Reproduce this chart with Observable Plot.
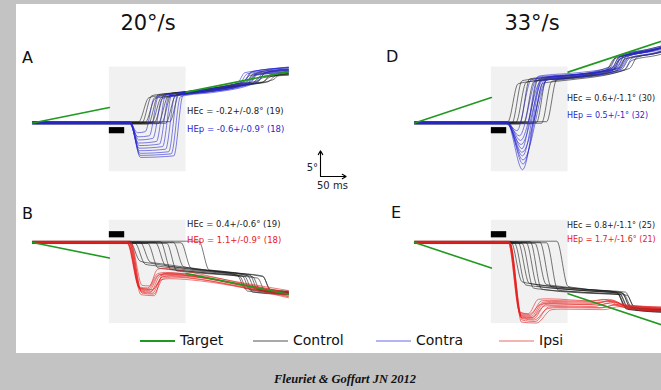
<!DOCTYPE html>
<html><head><meta charset="utf-8">
<script src="https://cdn.jsdelivr.net/npm/d3@7"></script>
<script src="https://cdn.jsdelivr.net/npm/@observablehq/plot@0.6"></script>
<style>
html,body{margin:0;padding:0;overflow:hidden;background:#c3c3c3;}
#fig{position:relative;width:661px;height:390px;overflow:hidden;background:#c3c3c3;font-family:"DejaVu Sans",sans-serif;}
#white{position:absolute;left:16px;top:4px;width:660px;height:349px;background:#fff;}
.pnl{position:absolute;}
.pnl svg{display:block;overflow:visible;background:transparent !important;max-width:none !important;}
#overlay{position:absolute;left:0;top:0;}
#caption{position:absolute;left:195px;width:300px;top:372px;text-align:center;font-family:"Liberation Serif","DejaVu Serif",serif;font-weight:bold;font-style:italic;font-size:12.5px;color:#111;}
</style>
</head><body>
<div id="fig">
  <div id="white"></div>
  <div class="pnl" id="pA" style="left:27px;top:30px"></div>
  <div class="pnl" id="pD" style="left:409px;top:30px"></div>
  <div class="pnl" id="pB" style="left:27px;top:211px"></div>
  <div class="pnl" id="pE" style="left:409px;top:211px"></div>
  <div class="pnl" id="pScale" style="left:316px;top:146px"></div>
  <svg id="overlay" width="661" height="390"></svg>
  <div id="caption">Fleuriet &amp; Goffart JN 2012</div>
</div>
<script>
// ---------- data (time in ms from blank onset, position in deg) ----------
const speeds = ["20°/s", "33°/s"];
const panelLetters = ["A", "D", "B", "E"];
const legendLabels = ["Target", "Control", "Contra", "Ipsi"];
const blankPeriod = [0, 150];
const stimPeriod = [0, 30];

// target trajectories (visible segments)
const targetA = [[[-150,0],[0,3.0]], [[150,6.0],[350,10.0]]];
const targetD = [[[-150,0],[0,4.95]], [[150,9.9],[350,16.5]]];
const targetB = [[[-150,0],[0,-3.0]], [[150,-6.0],[350,-10.0]]];
const targetE = [[[-150,0],[0,-4.95]], [[150,-9.9],[350,-16.5]]];

// A: 20°/s upward, control
const ctrlA = [
 [[-150,0.2],[57,0.2],[77,4.9],[95,5.3],[150,6.0],[255,7.7],[268,8.0],[282,9.6],[350,10.2]],
 [[-150,-0.1],[63,-0.1],[83,5.3],[100,5.6],[150,6.1],[245,7.6],[260,7.9],[276,9.3],[350,9.8]],
 [[-150,0.1],[70,0.1],[90,4.8],[110,5.1],[150,5.7],[265,7.6],[280,7.8],[295,9.0],[350,9.4]],
 [[-150,-0.2],[76,-0.2],[96,5.5],[115,5.7],[160,6.1],[250,7.2],[300,7.9],[315,9.4],[350,9.6]],
 [[-150,0],[82,0],[102,5.0],[120,5.3],[160,5.8],[270,7.5],[285,7.7],[300,8.8],[350,9.3]],
 [[-150,0.15],[88,0.15],[108,5.6],[125,5.8],[170,6.3],[260,7.7],[290,8.2],[305,9.8],[350,10.4]],
 [[-150,-0.15],[95,-0.15],[115,5.2],[130,5.5],[175,6.1],[280,7.6],[310,8.0],[325,9.2],[350,9.5]],
 [[-150,0.05],[102,0.05],[122,5.8],[140,6.0],[180,6.4],[250,7.4],[275,7.9],[290,9.9],[350,10.5]],
 [[-150,-0.05],[110,-0.05],[130,5.4],[150,5.7],[190,6.1],[285,7.8],[300,8.0],[315,9.0],[350,9.6]],
 [[-150,0.25],[118,0.25],[137,5.7],[155,5.9],[190,6.2],[270,7.5],[320,8.4],[335,9.7],[350,10.0]]
];
// A: contra perturbation
const contraA = [
 [[-150,0.1],[40,0.1],[55,-1.9],[70,-1.7],[88,4.9],[105,5.3],[160,6.1],[262,8.0],[277,9.9],[350,10.8]],
 [[-150,-0.1],[40,-0.1],[56,-2.7],[78,-2.5],[96,5.2],[112,5.5],[165,6.2],[255,7.8],[270,9.6],[350,10.4]],
 [[-150,0.2],[41,0.2],[57,-3.3],[85,-3.0],[103,4.7],[120,5.1],[170,5.8],[268,7.6],[283,9.2],[350,9.9]],
 [[-150,-0.2],[40,-0.2],[57,-3.9],[92,-3.6],[110,5.4],[125,5.7],[175,6.3],[250,7.7],[265,9.8],[350,10.7]],
 [[-150,0],[42,0],[58,-4.4],[98,-4.1],[116,5.0],[130,5.3],[180,5.9],[275,7.7],[290,9.5],[350,10.0]],
 [[-150,0.15],[40,0.15],[58,-4.9],[104,-4.6],[122,5.5],[138,5.8],[185,6.3],[260,7.6],[280,10.0],[350,10.8]],
 [[-150,-0.15],[41,-0.15],[59,-5.4],[110,-5.1],[128,5.2],[142,5.5],[190,6.0],[285,7.9],[300,9.6],[350,10.2]],
 [[-150,0.05],[40,0.05],[60,-5.9],[116,-5.6],[134,5.6],[148,5.8],[195,6.3],[270,7.7],[285,9.4],[350,10.3]],
 [[-150,-0.05],[42,-0.05],[60,-6.3],[121,-6.0],[139,5.1],[152,5.4],[200,5.9],[290,8.0],[305,9.8],[350,10.5]],
 [[-150,0.25],[40,0.25],[61,-6.7],[126,-6.4],[144,5.4],[158,5.7],[200,6.1],[265,7.6],[280,9.3],[350,10.9]]
];
// D: 33°/s upward, control
const ctrlD = [
 [[-150,0.2],[32,0.2],[52,7.6],[70,8.0],[150,8.8],[225,10.3],[240,12.5],[300,13.8],[350,15.0]],
 [[-150,-0.1],[40,-0.1],[60,8.2],[78,8.5],[150,9.0],[235,10.6],[250,12.8],[310,14.0],[350,15.2]],
 [[-150,0.1],[48,0.1],[68,7.9],[85,8.2],[150,8.7],[245,10.2],[260,12.4],[320,13.6],[350,14.6]],
 [[-150,-0.2],[55,-0.2],[75,8.6],[92,8.8],[150,9.2],[230,10.9],[245,13.0],[300,14.2],[350,15.4]],
 [[-150,0],[63,0],[83,8.0],[100,8.3],[150,8.7],[255,10.5],[270,12.6],[320,13.5],[350,14.4]],
 [[-150,0.15],[71,0.15],[91,8.4],[108,8.6],[150,8.9],[240,10.4],[255,12.9],[310,14.1],[350,15.0]],
 [[-150,-0.15],[80,-0.15],[100,7.7],[118,8.0],[155,8.4],[260,10.3],[275,12.2],[325,13.2],[350,13.9]],
 [[-150,0.05],[88,0.05],[108,8.8],[125,9.0],[160,9.3],[250,10.8],[265,13.2],[315,14.3],[350,15.1]],
 [[-150,-0.05],[98,-0.05],[118,8.1],[135,8.4],[165,8.7],[270,10.6],[285,12.8],[330,13.7],[350,14.2]],
 [[-150,0.25],[108,0.25],[128,8.5],[145,8.7],[170,9.0],[235,10.1],[250,12.3],[305,13.9],[350,14.8]]
];
// D: contra perturbation
const contraD = [
 [[-150,0.1],[30,0.1],[50,-1.5],[78,8.4],[93,8.7],[150,9.2],[235,10.6],[250,12.9],[310,14.2],[350,15.3]],
 [[-150,-0.1],[30,-0.1],[55,-2.5],[90,8.9],[105,9.1],[155,9.4],[245,10.9],[260,13.1],[315,14.3],[350,15.1]],
 [[-150,0.2],[31,0.2],[57,-3.4],[96,8.1],[110,8.4],[160,8.8],[250,10.3],[265,12.5],[320,13.7],[350,14.5]],
 [[-150,-0.2],[30,-0.2],[58,-4.2],[102,8.6],[116,8.9],[165,9.3],[230,10.5],[245,12.8],[305,14.0],[350,15.0]],
 [[-150,0],[32,0],[60,-5.0],[92,9.1],[106,9.3],[160,9.7],[240,11.0],[255,13.3],[310,14.4],[350,15.5]],
 [[-150,0.15],[30,0.15],[60,-5.7],[108,8.3],[122,8.6],[170,9.0],[260,10.4],[275,12.6],[325,13.6],[350,14.3]],
 [[-150,-0.15],[31,-0.15],[61,-6.4],[98,8.7],[112,9.0],[160,9.4],[245,10.7],[260,13.0],[315,14.2],[350,15.0]],
 [[-150,0.05],[30,0.05],[62,-7.2],[112,8.9],[126,9.1],[175,9.5],[255,10.8],[270,13.1],[320,14.0],[350,14.8]],
 [[-150,-0.05],[32,-0.05],[62,-8.0],[104,8.4],[118,8.7],[168,9.1],[238,10.3],[253,12.6],[308,13.9],[350,14.9]],
 [[-150,0.25],[30,0.25],[61,-9.1],[100,8.8],[114,9.0],[165,9.4],[250,10.6],[265,12.9],[318,14.1],[350,15.2]]
];
// B: 20°/s downward, control
const ctrlB = [
 [[-150,0.2],[40,0.2],[60,-3.6],[80,-4.0],[150,-5.0],[250,-6.3],[265,-8.9],[350,-9.6]],
 [[-150,-0.1],[50,-0.1],[70,-4.2],[90,-4.5],[160,-5.4],[260,-6.5],[275,-9.2],[350,-9.9]],
 [[-150,0.1],[60,0.1],[80,-3.8],[100,-4.1],[170,-5.1],[270,-6.4],[285,-9.0],[350,-9.5]],
 [[-150,-0.2],[75,-0.2],[95,-4.9],[115,-5.2],[180,-5.8],[255,-6.6],[270,-9.4],[350,-10.0]],
 [[-150,0],[90,0],[110,-4.5],[130,-4.8],[185,-5.5],[280,-6.6],[295,-9.3],[350,-9.7]],
 [[-150,0.15],[100,0.15],[120,-5.2],[140,-5.4],[190,-5.9],[265,-6.6],[280,-9.6],[350,-10.1]],
 [[-150,-0.15],[112,-0.15],[132,-5.5],[150,-5.7],[200,-6.1],[290,-6.9],[305,-9.5],[350,-9.8]],
 [[-150,0.05],[125,0.05],[145,-4.7],[165,-5.0],[210,-5.6],[300,-6.6],[315,-9.1],[350,-9.4]],
 [[-150,-0.05],[140,-0.05],[160,-5.0],[180,-5.3],[220,-5.7],[275,-6.3],[290,-9.2],[350,-9.7]],
 [[-150,0.25],[175,0.25],[195,-5.3],[215,-5.5],[260,-6.0],[300,-6.5],[315,-9.4],[350,-9.9]]
];
// B: ipsi perturbation
const ipsiB = [
 [[-150,0.1],[34,0.1],[58,-8.6],[75,-8.8],[95,-6.0],[110,-5.8],[160,-6.3],[250,-7.9],[350,-9.6]],
 [[-150,-0.1],[36,-0.1],[60,-9.0],[78,-9.2],[98,-6.2],[115,-6.0],[165,-6.5],[260,-8.2],[350,-9.9]],
 [[-150,0.2],[38,0.2],[62,-9.4],[80,-9.6],[100,-6.4],[118,-6.2],[170,-6.6],[270,-8.5],[350,-10.2]],
 [[-150,-0.2],[35,-0.2],[60,-8.8],[84,-9.1],[104,-6.6],[120,-6.4],[175,-6.8],[255,-8.3],[350,-10.4]],
 [[-150,0],[40,0],[64,-9.8],[86,-10.0],[106,-6.9],[122,-6.7],[180,-7.2],[265,-8.8],[350,-10.7]],
 [[-150,0.15],[37,0.15],[62,-10.1],[88,-10.3],[104,-6.1],[120,-5.9],[165,-6.2],[260,-7.8],[350,-9.3]],
 [[-150,-0.15],[42,-0.15],[64,-8.3],[78,-8.4],[94,-5.2],[105,-5.0],[150,-5.6],[245,-7.6],[350,-9.8]],
 [[-150,0.05],[39,0.05],[61,-9.2],[82,-9.4],[102,-7.2],[118,-7.0],[175,-7.4],[270,-8.9],[350,-10.5]],
 [[-150,-0.05],[36,-0.05],[59,-8.9],[76,-9.0],[96,-6.3],[112,-6.1],[160,-6.5],[255,-8.1],[350,-10.0]],
 [[-150,0.25],[41,0.25],[63,-9.6],[84,-9.8],[103,-6.7],[119,-6.5],[170,-7.0],[262,-8.6],[350,-10.1]]
];
// E: 33°/s downward, control
const ctrlE = [
 [[-150,0.2],[38,0.2],[60,-7.6],[80,-8.0],[160,-8.9],[245,-9.6],[262,-12.4],[350,-13.0]],
 [[-150,-0.1],[45,-0.1],[67,-8.2],[87,-8.5],[165,-9.2],[250,-9.8],[267,-12.7],[350,-13.3]],
 [[-150,0.1],[52,0.1],[74,-7.9],[94,-8.2],[170,-9.0],[255,-9.7],[272,-12.5],[350,-13.1]],
 [[-150,-0.2],[60,-0.2],[82,-8.8],[102,-9.1],[175,-9.6],[248,-10.0],[265,-12.9],[350,-13.4]],
 [[-150,0],[68,0],[90,-8.4],[110,-8.7],[180,-9.3],[258,-9.9],[275,-12.6],[350,-13.0]],
 [[-150,0.15],[76,0.15],[98,-9.0],[118,-9.3],[185,-9.8],[252,-10.1],[269,-13.0],[350,-13.5]],
 [[-150,-0.15],[85,-0.15],[107,-8.1],[127,-8.4],[190,-9.1],[262,-9.6],[279,-12.3],[350,-12.8]],
 [[-150,0.05],[95,0.05],[117,-8.6],[137,-8.9],[195,-9.4],[246,-9.8],[263,-12.8],[350,-13.3]],
 [[-150,-0.05],[108,-0.05],[130,-9.2],[148,-9.4],[200,-9.8],[265,-10.2],[282,-13.1],[350,-13.6]],
 [[-150,0.25],[128,0.25],[150,-8.5],[168,-8.8],[210,-9.3],[255,-9.7],[272,-12.6],[350,-13.2]]
];
// E: ipsi perturbation
const ipsiE = [
 [[-150,0.1],[33,0.1],[55,-13.4],[72,-13.8],[92,-11.0],[110,-10.9],[200,-11.3],[230,-11.0],[260,-12.0],[350,-12.6]],
 [[-150,-0.1],[35,-0.1],[57,-14.0],[78,-14.3],[100,-11.6],[118,-11.4],[205,-11.6],[235,-11.2],[265,-12.4],[350,-12.9]],
 [[-150,0.2],[34,0.2],[58,-14.5],[82,-14.8],[106,-12.0],[124,-11.9],[210,-12.1],[240,-11.5],[270,-12.6],[350,-13.1]],
 [[-150,-0.2],[36,-0.2],[60,-15.0],[86,-15.3],[112,-12.5],[130,-12.4],[215,-12.6],[245,-12.0],[275,-12.8],[350,-13.3]],
 [[-150,0],[33,0],[56,-13.8],[76,-14.1],[98,-11.3],[114,-11.2],[190,-11.4],[220,-11.0],[250,-12.1],[350,-12.5]],
 [[-150,0.15],[35,0.15],[59,-15.4],[88,-15.6],[118,-13.0],[136,-12.9],[220,-13.0],[250,-12.4],[280,-13.0],[350,-13.4]],
 [[-150,-0.15],[37,-0.15],[58,-14.2],[80,-14.5],[104,-12.3],[120,-12.2],[200,-12.4],[228,-11.8],[258,-12.5],[350,-12.9]],
 [[-150,0.05],[34,0.05],[57,-13.6],[74,-13.9],[96,-12.0],[112,-11.8],[195,-12.0],[230,-11.4],[262,-12.2],[350,-12.7]],
 [[-150,-0.05],[36,-0.05],[60,-14.7],[84,-15.0],[110,-12.8],[128,-12.6],[212,-12.7],[242,-12.1],[272,-12.9],[350,-13.2]],
 [[-150,0.25],[35,0.25],[58,-14.4],[79,-14.6],[102,-11.8],[118,-11.6],[198,-11.8],[232,-11.3],[264,-12.3],[350,-12.8]]
];
// annotation texts
const notesA = ["HEc = -0.2+/-0.8° (19)", "HEp = -0.6+/-0.9° (18)"];
const notesD = ["HEc = 0.6+/-1.1° (30)", "HEp = 0.5+/-1° (32)"];
const notesB = ["HEc = 0.4+/-0.6° (19)", "HEp = 1.1+/-0.9° (18)"];
const notesE = ["HEc = 0.8+/-1.1° (25)", "HEp = 1.7+/-1.6° (21)"];
// scale bar: 5° and 50 ms
const scaleBar = [{x1:0,y1:0,x2:0,y2:5},{x1:0,y1:0,x2:50,y2:0}];

// ---------- drawing ----------
const BLUE = "#2828d0", RED = "#e62020", GREEN = "#1f9a1f", BLACK = "#1a1a1a";
function rowsOf(traces, prefix){
  const out = [];
  traces.forEach((tr,i)=>tr.forEach(([t,y])=>out.push({t,y,id:prefix+i})));
  return out;
}
function panel(el, {ctrl, pert, pertColor, target, yDomain, height, blankY, barY, notes, noteY, noteX, noteSize}) {
  const tgtRows = rowsOf(target, "s");
  const chart = Plot.plot({
    width: 266, height, margin: 0,
    x: {domain: [-160, 360], axis: null},
    y: {domain: yDomain, axis: null},
    style: {background: "transparent", overflow: "visible", maxWidth: "none", fontFamily: "DejaVu Sans"},
    marks: [
      Plot.rect([{t1: blankPeriod[0], t2: blankPeriod[1], y1: blankY[0], y2: blankY[1]}],
        {x1: "t1", x2: "t2", y1: "y1", y2: "y2", fill: "#f1f1f1"}),
      Plot.line(rowsOf(ctrl, "c"), {x: "t", y: "y", z: "id", stroke: BLACK, strokeWidth: 0.7, strokeOpacity: 0.85, curve: "monotone-x"}),
      Plot.line(rowsOf(pert, "p"), {x: "t", y: "y", z: "id", stroke: pertColor, strokeWidth: 0.7, strokeOpacity: 0.85, curve: "monotone-x"}),
      Plot.line(tgtRows, {x: "t", y: "y", z: "id", stroke: GREEN, strokeWidth: 1.6}),
      Plot.rect([{t1: stimPeriod[0], t2: stimPeriod[1], y1: barY[0], y2: barY[1]}],
        {x1: "t1", x2: "t2", y1: "y1", y2: "y2", fill: "#000"}),
      Plot.text([{t: noteX, y: noteY[0], s: notes[0]}], {x: "t", y: "y", text: "s", textAnchor: "start", fontSize: noteSize, fill: "#222"}),
      Plot.text([{t: noteX, y: noteY[1], s: notes[1]}], {x: "t", y: "y", text: "s", textAnchor: "start", fontSize: noteSize, fill: pertColor})
    ]
  });
  document.getElementById(el).appendChild(chart);
}
const topRow = {yDomain: [-11, 18], height: 149, blankY: [-9.5, 10.9], barY: [-0.9, -2.1]};
const botRow = {yDomain: [-18, 6], height: 124, blankY: [-15.7, 4.3], barY: [2.1, 0.9]};
panel("pA", {...topRow, ctrl: ctrlA, pert: contraA, pertColor: BLUE, target: targetA, notes: notesA, noteY: [2.3, -1.2], noteX: 152, noteSize: 8.5});
panel("pD", {...topRow, ctrl: ctrlD, pert: contraD, pertColor: BLUE, target: targetD, notes: notesD, noteY: [4.8, 1.5], noteX: 148, noteSize: 8});
panel("pB", {...botRow, ctrl: ctrlB, pert: ipsiB, pertColor: RED, target: targetB, notes: notesB, noteY: [3.5, 0.4], noteX: 152, noteSize: 8.5});
panel("pE", {...botRow, ctrl: ctrlE, pert: ipsiE, pertColor: RED, target: targetE, notes: notesE, noteY: [3.3, 0.6], noteX: 148, noteSize: 8});

// scale bar
document.getElementById("pScale").appendChild(Plot.plot({
  width: 34, height: 34, margin: 0,
  x: {domain: [0, 50], range: [4, 29.6], axis: null},
  y: {domain: [0, 5], range: [30, 4.3], axis: null},
  style: {background: "transparent", overflow: "visible"},
  marks: [Plot.arrow(scaleBar, {x1: "x1", y1: "y1", x2: "x2", y2: "y2", stroke: "#000", strokeWidth: 1.1, headLength: 6})]
}));

// overlay texts & legend
const svg = d3.select("#overlay").style("font-family", "DejaVu Sans");
svg.append("text").attr("x", 148).attr("y", 23).attr("text-anchor", "middle").attr("dominant-baseline", "central").attr("font-size", 21).attr("fill", "#111").text(speeds[0]);
svg.append("text").attr("x", 532).attr("y", 23).attr("text-anchor", "middle").attr("dominant-baseline", "central").attr("font-size", 21).attr("fill", "#111").text(speeds[1]);
const letterPos = [[22, 57], [386, 56], [22, 213], [391, 212]];
panelLetters.forEach((L, i) => svg.append("text").attr("x", letterPos[i][0]).attr("y", letterPos[i][1]).attr("dominant-baseline", "central").attr("font-size", 16).attr("fill", "#111").text(L));
svg.append("text").attr("x", 318).attr("y", 167).attr("text-anchor", "end").attr("dominant-baseline", "central").attr("font-size", 10).attr("fill", "#222").text("5°");
svg.append("text").attr("x", 317).attr("y", 185).attr("dominant-baseline", "central").attr("font-size", 10).attr("fill", "#222").text("50 ms");
const legendColors = [GREEN, "#555", "#6b6be6", "#e86a6a"];
const legendX = [140, 253, 376, 499];
legendLabels.forEach((lab, i) => {
  svg.append("line").attr("x1", legendX[i]).attr("x2", legendX[i] + 35).attr("y1", 341).attr("y2", 341).attr("stroke", legendColors[i]).attr("stroke-width", i === 0 ? 1.8 : 1.2);
  svg.append("text").attr("x", legendX[i] + 40).attr("y", 340).attr("dominant-baseline", "central").attr("font-size", 14).attr("fill", "#111").text(lab);
});
</script>
</body></html>
